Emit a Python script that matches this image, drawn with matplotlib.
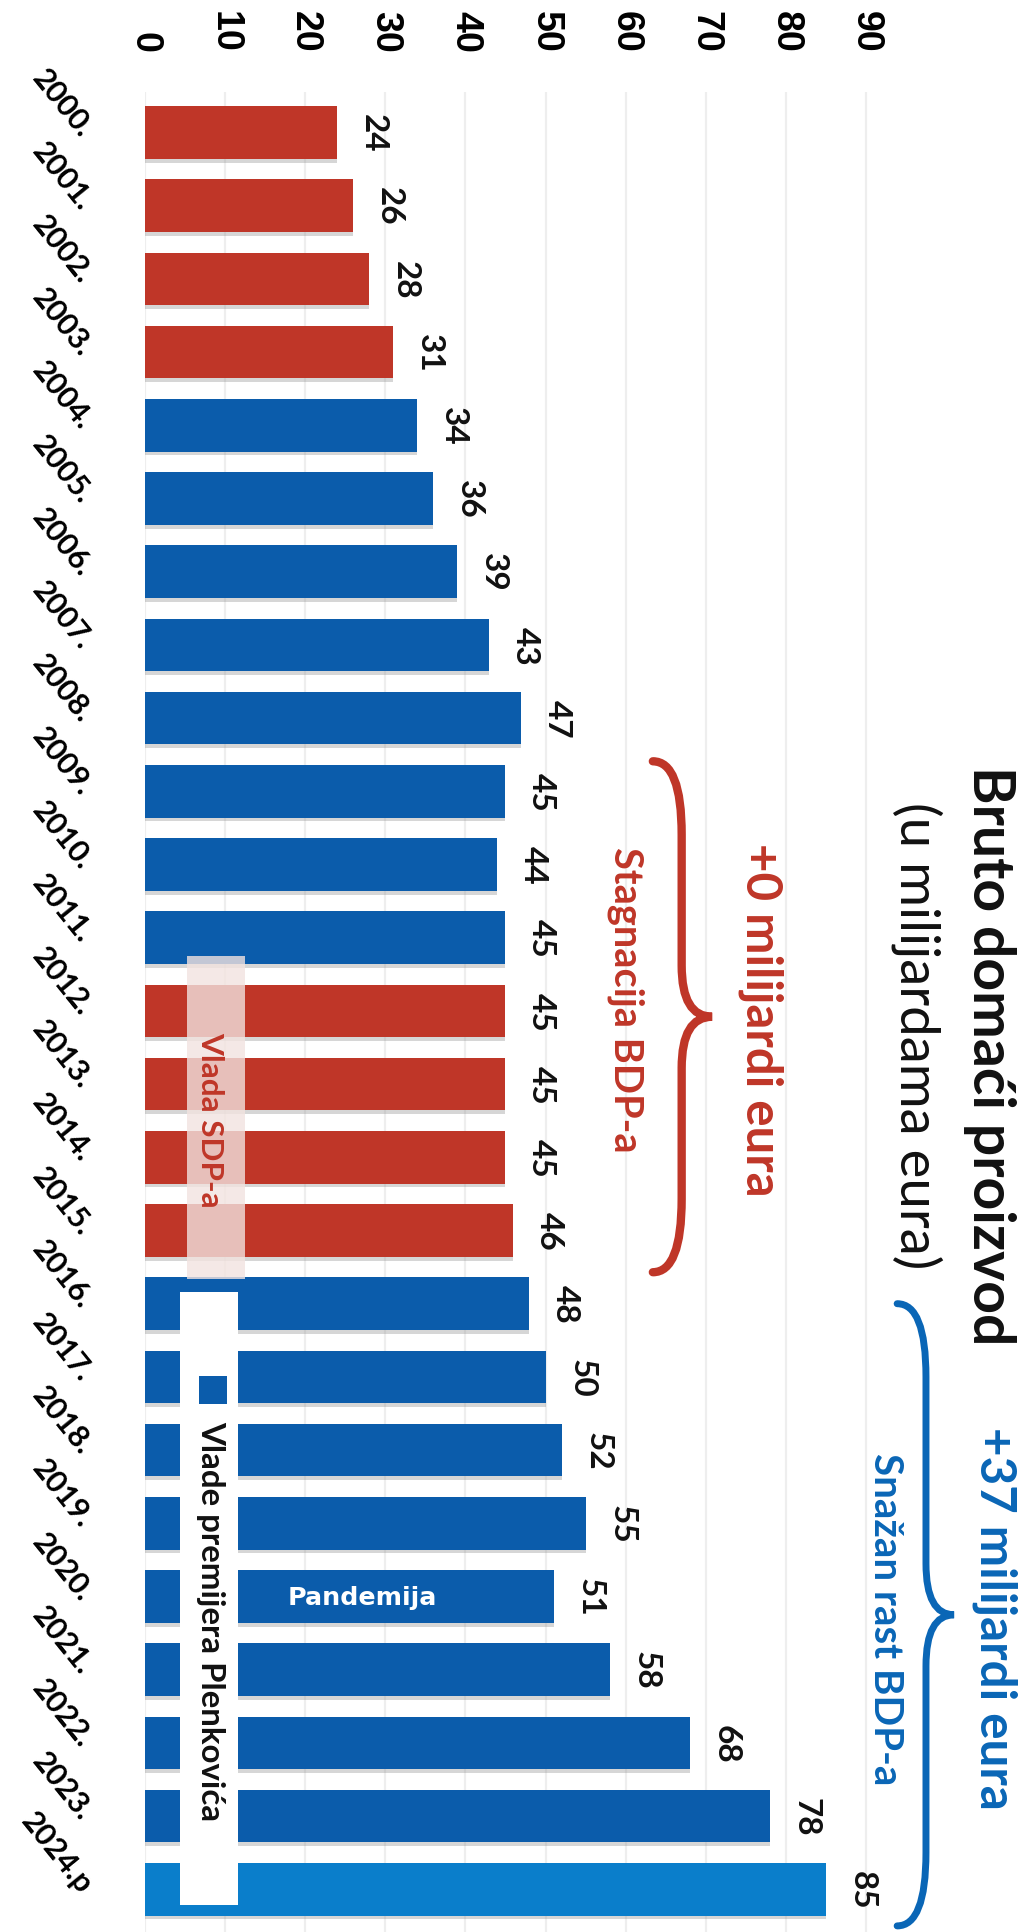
import matplotlib
matplotlib.use("Agg")
import matplotlib.pyplot as plt
from matplotlib.patches import Rectangle, PathPatch
from matplotlib.path import Path

# podaci
year_labels = ['2000.', '2001.', '2002.', '2003.', '2004.', '2005.', '2006.', '2007.',
               '2008.', '2009.', '2010.', '2011.', '2012.', '2013.', '2014.', '2015.',
               '2016.', '2017.', '2018.', '2019.', '2020.', '2021.', '2022.', '2023.',
               '2024.p']
gdp = [24, 26, 28, 31, 34, 36, 39, 43, 47, 45, 44, 45, 45, 45, 45, 46,
       48, 50, 52, 55, 51, 58, 68, 78, 85]
govt = ['SDP'] * 4 + ['HDZ'] * 8 + ['SDP'] * 4 + ['HDZ'] * 8 + ['proj']
x_ticks = [0, 10, 20, 30, 40, 50, 60, 70, 80, 90]

RED = '#BF3628'
BLUE = '#0B5CAB'
LIGHT_BLUE = '#0A7ECB'
TXT_BLUE = '#0A66B6'
colors = {'SDP': RED, 'HDZ': BLUE, 'proj': LIGHT_BLUE}

fig = plt.figure(figsize=(10.24, 19.33), dpi=100)
ax = fig.add_axes([145 / 1024, 0, 1 - 145 / 1024, 1 - 93 / 1933])

idx = list(range(len(gdp)))
bar_cols = [colors[g] for g in govt]

# sjena ispod stupaca
ax.barh([i + 0.05 for i in idx], gdp, height=0.72, color='#7a7a7a', alpha=0.3, zorder=1)
ax.barh(idx, gdp, height=0.72, color=bar_cols, zorder=2)

ax.set_xlim(0, (1024 - 145) / 8.01)
ax.set_ylim((1933 - 133.5) / 73.2, (93 - 133.5) / 73.2)

for s in ax.spines.values():
    s.set_visible(False)

ax.xaxis.tick_top()
ax.set_xticks(x_ticks)
ax.set_xticklabels([str(t) for t in x_ticks], rotation=-90, fontsize=27,
                   fontweight='bold', family='Liberation Sans')
ax.tick_params(axis='x', length=0, pad=29)
ax.set_yticks(idx)
ax.set_yticklabels(year_labels, rotation=-51, ha='right', va='center',
                   rotation_mode='anchor', fontsize=22, fontweight='bold', family='Lato')
ax.tick_params(axis='y', length=0, pad=42)
ax.grid(axis='x', color='#eeeeee', linewidth=1.6, zorder=0)
ax.set_axisbelow(True)

# vrijednosti
for i, v in enumerate(gdp):
    ax.text(v + 2.7, i, str(v), rotation=-90, ha='left', va='center', fontsize=24,
            fontweight='bold', family='Lato', color='#111111', zorder=5)

renderer = fig.canvas.get_renderer()


def fit_text(t, length_px):
    bb = t.get_window_extent(renderer)
    cur = max(bb.width, bb.height)
    t.set_fontsize(t.get_fontsize() * length_px / cur)


# okvir Vlada SDP-a
ax.add_patch(Rectangle((5.24, 11.25), 12.48 - 5.24, 15.66 - 11.25,
                       facecolor='#F2E3E0', alpha=0.8, edgecolor='none', zorder=3))
t = ax.text(8.1, 13.48, 'Vlada SDP-a', rotation=-90, ha='center', va='center',
            fontsize=18, fontweight='bold', family='Lato', color=RED, zorder=4)
fit_text(t, 176)

# okvir Plenković
ax.add_patch(Rectangle((4.37, 15.84), 11.61 - 4.37, 24.22 - 15.84,
                       facecolor='white', edgecolor='none', zorder=3))
ax.add_patch(Rectangle((8.49 - 1.75, 17.18 - 0.19), 3.5, 0.38,
                       facecolor=BLUE, edgecolor='none', zorder=4))
t = ax.text(8.2, 20.32, 'Vlade premijera Plenkovića', rotation=-90, ha='center',
            va='center', fontsize=20, fontweight='bold', family='Lato',
            color='#111111', zorder=4)
fit_text(t, 400)

t = ax.text(27.1, 20, 'Pandemija', ha='center', va='center', fontsize=19,
            fontweight='bold', family='DejaVu Sans', color='white', zorder=4)
fit_text(t, 150)


def brace(x_end, x_spine, x_tip, y_top, y_tip, y_bot, color, lw, r_end=1.0, r_tip=0.7):
    verts = [(x_end, y_top), (x_spine, y_top), (x_spine, y_top + r_end),
             (x_spine, y_tip - r_tip), (x_spine, y_tip), (x_tip, y_tip),
             (x_spine, y_tip), (x_spine, y_tip + r_tip),
             (x_spine, y_bot - r_end), (x_spine, y_bot), (x_end, y_bot)]
    codes = [Path.MOVETO, Path.CURVE3, Path.CURVE3, Path.LINETO, Path.CURVE3,
             Path.CURVE3, Path.CURVE3, Path.CURVE3, Path.LINETO, Path.CURVE3,
             Path.CURVE3]
    ax.add_patch(PathPatch(Path(verts, codes), facecolor='none', edgecolor=color,
                           linewidth=lw, capstyle='round', zorder=4, clip_on=False))


brace(63.4, 67.0, 70.8, 8.59, 12.08, 15.57, RED, 6)
brace(93.9, 97.5, 101.0, 16.0, 20.25, 24.5, TXT_BLUE, 5)

# tekstovi
t = ax.text(105.4, 12.6, 'Bruto domaći proizvod', rotation=-90, ha='center', va='center',
            fontsize=36, fontweight='bold', family='Lato', color='#111111')
fit_text(t, 579)
t = ax.text(96.4, 12.33, '(u milijardama eura)', rotation=-90, ha='center', va='center',
            fontsize=30, family='Lato', color='#111111')
fit_text(t, 467)
t = ax.text(76.9, 12.11, '+0 milijardi eura', rotation=-90, ha='center', va='center',
            fontsize=26, fontweight='bold', family='Lato', color=RED)
fit_text(t, 354)
t = ax.text(60.05, 11.84, 'Stagnacija BDP-a', rotation=-90, ha='center', va='center',
            fontsize=24, fontweight='bold', family='Lato', color=RED)
fit_text(t, 306)
t = ax.text(106.1, 20.28, '+37 milijardi eura', rotation=-90, ha='center', va='center',
            fontsize=26, fontweight='bold', family='Lato', color=TXT_BLUE)
fit_text(t, 384)
t = ax.text(92.4, 20.29, 'Snažan rast BDP-a', rotation=-90, ha='center', va='center',
            fontsize=24, fontweight='bold', family='Lato', color=TXT_BLUE)
fit_text(t, 332)

fig.savefig('out.png', dpi=100)
